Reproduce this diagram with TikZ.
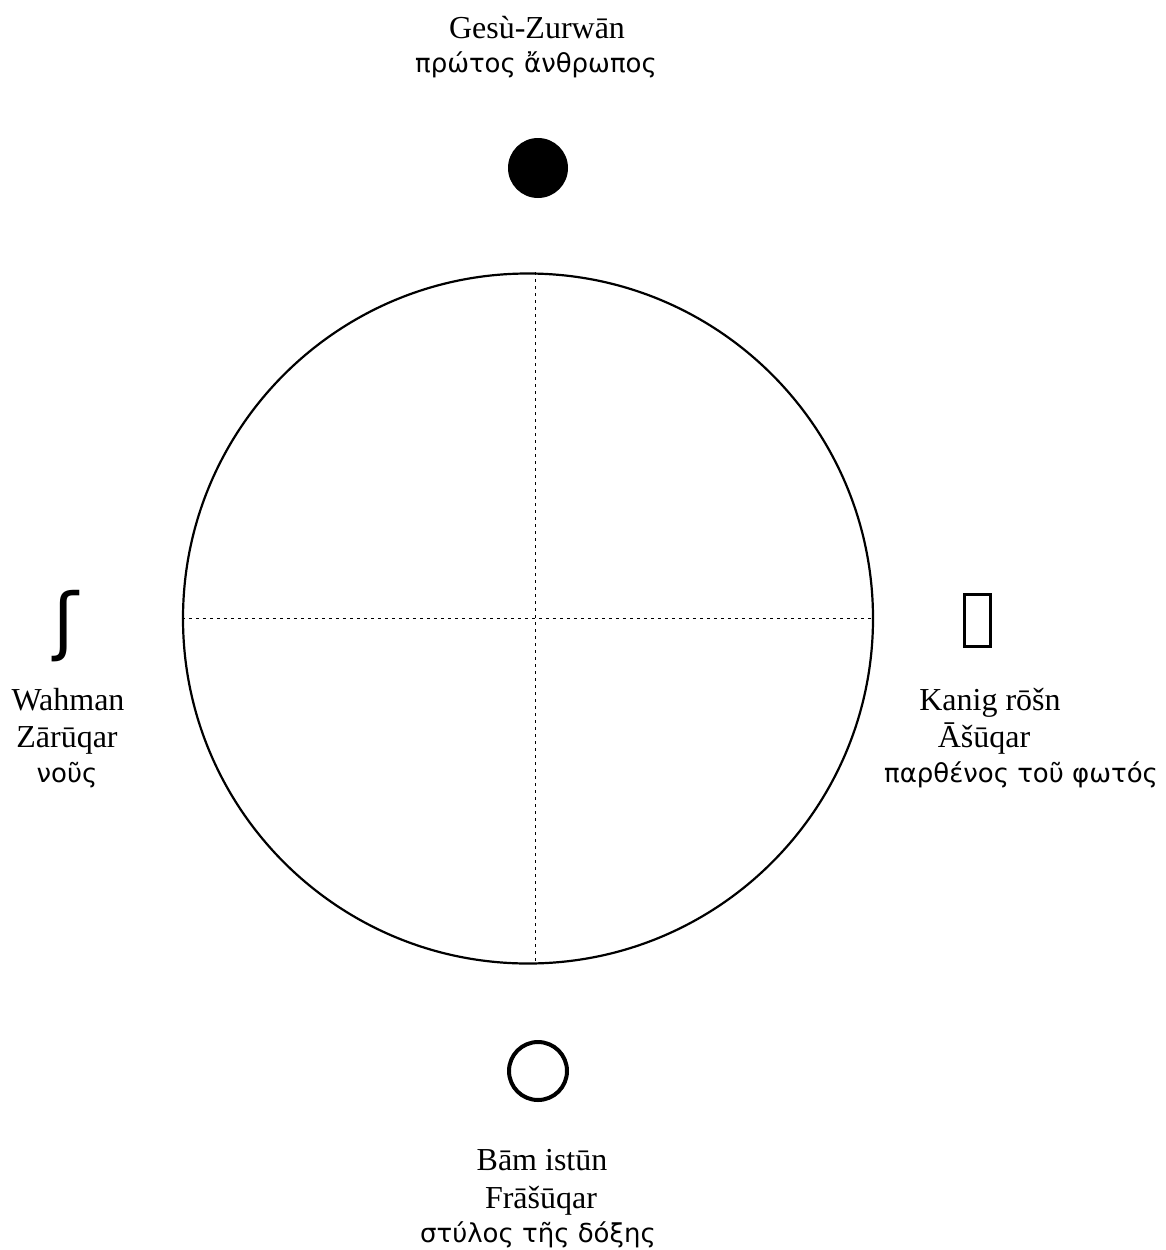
\documentclass[tikz,border=0pt]{standalone}
\usepackage{fontspec}
\setmainfont{Liberation Serif}
\newfontfamily\grkfont{DejaVu Sans}
\usetikzlibrary{positioning}
\tikzset{
  zw ring/.style={draw, circle, line width=2.2pt, minimum size=690pt, inner sep=0pt},
  zw guide/.style={draw, line width=1pt, dash pattern=on 3pt off 4pt},
  zw name/.style={font=\fontsize{32}{38}\selectfont, anchor=base, inner sep=0pt},
  zw greek/.style={font=\grkfont\fontsize{26}{30}\selectfont, anchor=base, inner sep=0pt},
  zw full/.style={circle, fill, minimum size=60pt, inner sep=0pt},
  zw empty/.style={circle, draw, line width=4pt, minimum size=58pt, inner sep=0pt},
  zw tofu/.style={draw, line width=3pt, minimum width=26pt, minimum height=52pt, inner sep=0pt},
  zw glyph/.style={font=\grkfont\fontsize{74}{74}\selectfont, inner sep=0pt}
}
\begin{document}
\begin{tikzpicture}[x=1pt,y=-1pt]
  \useasboundingbox (0,0) rectangle (1166,1250);
  \node[zw ring] (ring) at (528,618.5) {};

  % cross
  \draw[zw guide] ([xshift=7pt]ring.north) -- ([xshift=7pt]ring.south);
  \draw[zw guide] (ring.west) -- (ring.east);

  % top
  \node[zw name] (topName) at (537,38) {Gesù-Zurwān};
  \node[zw greek] (topGreek) at (536,72) {πρώτος ἄνθρωπος};
  \node[zw full] (topSym) at (538,168) {};

  % left
  \node[zw glyph] (leftSym) at (66,626) {ʃ};
  \node[zw name] (leftName) at (68,710) {Wahman};
  \node[zw name] (leftAlt) at (67,747) {Zārūqar};
  \node[zw greek] (leftGreek) at (67,782) {νοῦς};

  % right
  \node[zw tofu] (rightSym) at (977,620) {};
  \node[zw name] (rightName) at (990,710) {Kanig rōšn};
  \node[zw name] (rightAlt) at (984,747) {Āšūqar};
  \node[zw greek] (rightGreek) at (1021,782) {παρθένος τοῦ φωτός};

  % bottom
  \node[zw empty] (botSym) at (538,1071) {};
  \node[zw name] (botName) at (542,1170) {Bām istūn};
  \node[zw name] (botAlt) at (541,1208) {Frāšūqar};
  \node[zw greek] (botGreek) at (538,1242) {στύλος τῆς δόξης};
\end{tikzpicture}
\end{document}
